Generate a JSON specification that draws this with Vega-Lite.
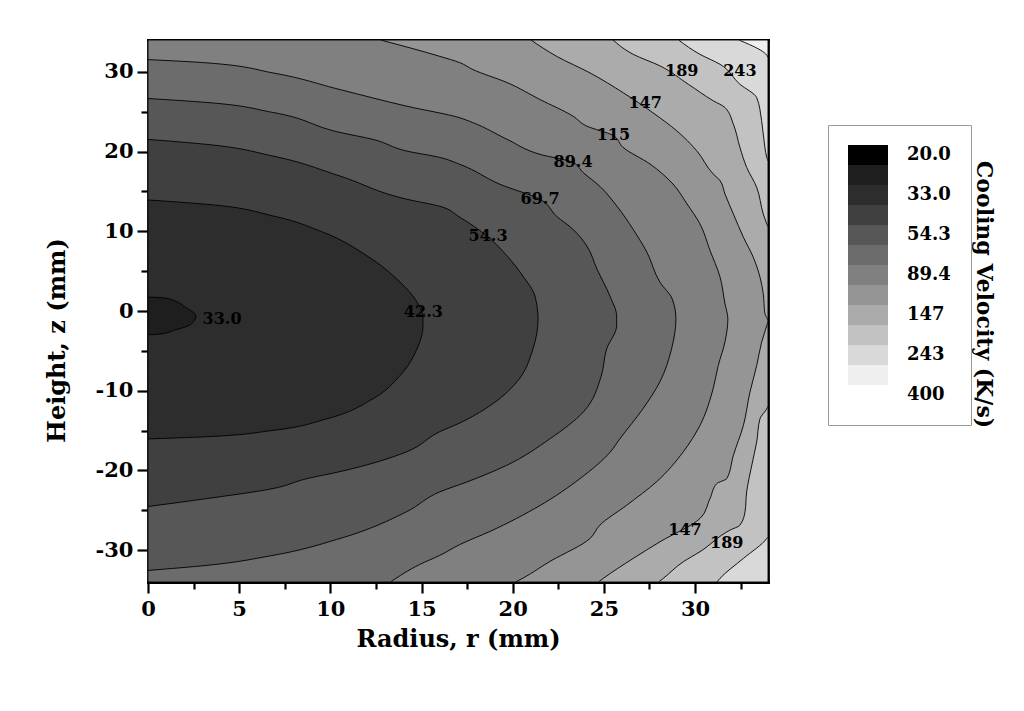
{
  "$schema": "https://vega.github.io/schema/vega-lite/v6.json",
  "width": 620,
  "height": 542,
  "autosize": "none",
  "padding": {"left": 148, "top": 40, "right": 256, "bottom": 129},
  "background": "white",
  "config": {
    "view": {"stroke": null},
    "font": "DejaVu Serif",
    "axis": {
      "labelFont": "DejaVu Serif", "labelFontWeight": "bold", "labelFontSize": 21, "labelColor": "black",
      "titleFont": "DejaVu Serif", "titleFontWeight": "bold", "titleFontSize": 24, "titleColor": "black",
      "domainColor": "black", "domainWidth": 2.8, "domainCap": "square",
      "tickColor": "black", "tickWidth": 2.2, "grid": false, "zindex": 1
    }
  },
  "datasets": {
    "regions": [
      {"band": "312", "z": 34, "r": 34}, {"band": "312", "z": -34, "r": 34},
      {"band": "243", "z": 34, "r": 32.4}, {"band": "243", "z": 31.7, "r": 34}, {"band": "243", "z": -34, "r": 34},
      {"band": "189", "z": 34, "r": 29.1}, {"band": "189", "z": 32.2, "r": 30.27}, {"band": "189", "z": 30.95, "r": 31.37}, {"band": "189", "z": 28.45, "r": 32.46}, {"band": "189", "z": 26.78, "r": 33.38}, {"band": "189", "z": 23.87, "r": 33.65}, {"band": "189", "z": 20.53, "r": 33.83}, {"band": "189", "z": 19.27, "r": 33.93}, {"band": "189", "z": 18.77, "r": 34}, {"band": "189", "z": -28.29, "r": 34}, {"band": "189", "z": -28.54, "r": 33.93}, {"band": "189", "z": -31.04, "r": 32.65}, {"band": "189", "z": -33.54, "r": 31.37}, {"band": "189", "z": -34, "r": 31.2},
      {"band": "147", "z": 34, "r": 25.5}, {"band": "147", "z": 32.2, "r": 26.61}, {"band": "147", "z": 30.75, "r": 28.08}, {"band": "147", "z": 28.45, "r": 29.63}, {"band": "147", "z": 26.37, "r": 31.0}, {"band": "147", "z": 25.53, "r": 31.64}, {"band": "147", "z": 23.44, "r": 32.1}, {"band": "147", "z": 20.53, "r": 32.46}, {"band": "147", "z": 18.02, "r": 32.83}, {"band": "147", "z": 15.52, "r": 33.38}, {"band": "147", "z": 12.18, "r": 33.74}, {"band": "147", "z": 10.93, "r": 33.93}, {"band": "147", "z": 10.5, "r": 34}, {"band": "147", "z": -11.89, "r": 34}, {"band": "147", "z": -12.27, "r": 33.93}, {"band": "147", "z": -13.52, "r": 33.56}, {"band": "147", "z": -16.43, "r": 33.38}, {"band": "147", "z": -19.36, "r": 33.11}, {"band": "147", "z": -22.69, "r": 32.83}, {"band": "147", "z": -25.19, "r": 32.74}, {"band": "147", "z": -26.87, "r": 32.46}, {"band": "147", "z": -27.5, "r": 31.91}, {"band": "147", "z": -30.2, "r": 30.27}, {"band": "147", "z": -31.45, "r": 29.36}, {"band": "147", "z": -33.54, "r": 28.26}, {"band": "147", "z": -34, "r": 28.0},
      {"band": "115", "z": 34, "r": 21.0}, {"band": "115", "z": 31.95, "r": 22.41}, {"band": "115", "z": 29.87, "r": 24.24}, {"band": "115", "z": 27.37, "r": 26.07}, {"band": "115", "z": 24.69, "r": 27.8}, {"band": "115", "z": 22.62, "r": 28.99}, {"band": "115", "z": 20.11, "r": 30.09}, {"band": "115", "z": 17.18, "r": 31.0}, {"band": "115", "z": 16.36, "r": 31.37}, {"band": "115", "z": 14.68, "r": 31.64}, {"band": "115", "z": 12.18, "r": 32.1}, {"band": "115", "z": 9.26, "r": 32.65}, {"band": "115", "z": 6.76, "r": 33.19}, {"band": "115", "z": 4.26, "r": 33.56}, {"band": "115", "z": 2.17, "r": 33.74}, {"band": "115", "z": -0.34, "r": 33.83}, {"band": "115", "z": -1.25, "r": 34.0}, {"band": "115", "z": -1.84, "r": 33.93}, {"band": "115", "z": -3.92, "r": 33.65}, {"band": "115", "z": -6.85, "r": 33.38}, {"band": "115", "z": -10.18, "r": 33.01}, {"band": "115", "z": -14.36, "r": 32.65}, {"band": "115", "z": -18.11, "r": 32.1}, {"band": "115", "z": -21.03, "r": 31.74}, {"band": "115", "z": -21.65, "r": 31.19}, {"band": "115", "z": -23.53, "r": 30.82}, {"band": "115", "z": -26.03, "r": 30.27}, {"band": "115", "z": -28.95, "r": 28.08}, {"band": "115", "z": -31.04, "r": 26.61}, {"band": "115", "z": -33.54, "r": 24.97}, {"band": "115", "z": -34, "r": 24.7},
      {"band": "89.4", "z": 34, "r": 12.75}, {"band": "89.4", "z": 31.95, "r": 16.0}, {"band": "89.4", "z": 31.16, "r": 17.1}, {"band": "89.4", "z": 30.29, "r": 17.82}, {"band": "89.4", "z": 28.66, "r": 19.69}, {"band": "89.4", "z": 26.53, "r": 21.5}, {"band": "89.4", "z": 24.44, "r": 23.31}, {"band": "89.4", "z": 23.19, "r": 24.07}, {"band": "89.4", "z": 22.03, "r": 25.5}, {"band": "89.4", "z": 20.53, "r": 26.05}, {"band": "89.4", "z": 18.44, "r": 27.53}, {"band": "89.4", "z": 15.93, "r": 28.79}, {"band": "89.4", "z": 13.43, "r": 29.56}, {"band": "89.4", "z": 10.93, "r": 30.27}, {"band": "89.4", "z": 7.6, "r": 30.82}, {"band": "89.4", "z": 4.26, "r": 31.37}, {"band": "89.4", "z": 0.91, "r": 31.64}, {"band": "89.4", "z": -1.0, "r": 31.8}, {"band": "89.4", "z": -3.88, "r": 31.64}, {"band": "89.4", "z": -6.85, "r": 31.27}, {"band": "89.4", "z": -9.76, "r": 30.99}, {"band": "89.4", "z": -14.36, "r": 30.27}, {"band": "89.4", "z": -17.65, "r": 29.36}, {"band": "89.4", "z": -21.4, "r": 27.9}, {"band": "89.4", "z": -24.37, "r": 26.25}, {"band": "89.4", "z": -26.87, "r": 24.78}, {"band": "89.4", "z": -28.54, "r": 24.24}, {"band": "89.4", "z": -31.41, "r": 22.05}, {"band": "89.4", "z": -33.9, "r": 20.24}, {"band": "89.4", "z": -34, "r": 20.15},
      {"band": "69.7", "z": 31.54, "r": 0}, {"band": "69.7", "z": 31.13, "r": 3.24}, {"band": "69.7", "z": 29.87, "r": 6.85}, {"band": "69.7", "z": 27.78, "r": 10.53}, {"band": "69.7", "z": 25.69, "r": 14.2}, {"band": "69.7", "z": 24.24, "r": 17.1}, {"band": "69.7", "z": 23.65, "r": 17.8}, {"band": "69.7", "z": 21.53, "r": 19.7}, {"band": "69.7", "z": 19.65, "r": 21.5}, {"band": "69.7", "z": 18.65, "r": 23.3}, {"band": "69.7", "z": 17.4, "r": 23.85}, {"band": "69.7", "z": 15.64, "r": 24.78}, {"band": "69.7", "z": 13.14, "r": 25.72}, {"band": "69.7", "z": 10.26, "r": 26.6}, {"band": "69.7", "z": 7.38, "r": 27.36}, {"band": "69.7", "z": 3.63, "r": 28.07}, {"band": "69.7", "z": 1.5, "r": 28.75}, {"band": "69.7", "z": -1.0, "r": 28.95}, {"band": "69.7", "z": -4.76, "r": 28.71}, {"band": "69.7", "z": -8.89, "r": 28.07}, {"band": "69.7", "z": -12.27, "r": 27.14}, {"band": "69.7", "z": -16.02, "r": 25.88}, {"band": "69.7", "z": -17.69, "r": 25.35}, {"band": "69.7", "z": -21.03, "r": 23.69}, {"band": "69.7", "z": -24.4, "r": 21.5}, {"band": "69.7", "z": -27.66, "r": 18.75}, {"band": "69.7", "z": -29.3, "r": 17.1}, {"band": "69.7", "z": -30.66, "r": 16.0}, {"band": "69.7", "z": -31.8, "r": 14.9}, {"band": "69.7", "z": -34, "r": 13.3},
      {"band": "54.3", "z": 26.66, "r": 0}, {"band": "54.3", "z": 26.16, "r": 3.24}, {"band": "54.3", "z": 24.91, "r": 6.85}, {"band": "54.3", "z": 22.4, "r": 10.53}, {"band": "54.3", "z": 21.53, "r": 12.34}, {"band": "54.3", "z": 20.06, "r": 14.2}, {"band": "54.3", "z": 19.27, "r": 16.0}, {"band": "54.3", "z": 18.4, "r": 17.1}, {"band": "54.3", "z": 15.9, "r": 19.3}, {"band": "54.3", "z": 14.0, "r": 21.5}, {"band": "54.3", "z": 11.9, "r": 22.4}, {"band": "54.3", "z": 10.26, "r": 23.3}, {"band": "54.3", "z": 8.14, "r": 24.07}, {"band": "54.3", "z": 5.26, "r": 24.62}, {"band": "54.3", "z": 1.88, "r": 25.33}, {"band": "54.3", "z": -0.63, "r": 25.7}, {"band": "54.3", "z": -1.84, "r": 25.7}, {"band": "54.3", "z": -4.76, "r": 25.15}, {"band": "54.3", "z": -8.2, "r": 24.85}, {"band": "54.3", "z": -12.68, "r": 23.87}, {"band": "54.3", "z": -16.02, "r": 22.05}, {"band": "54.3", "z": -19.36, "r": 19.67}, {"band": "54.3", "z": -21.44, "r": 17.5}, {"band": "54.3", "z": -22.69, "r": 16.0}, {"band": "54.3", "z": -25.16, "r": 14.2}, {"band": "54.3", "z": -28.54, "r": 10.53}, {"band": "54.3", "z": -30.66, "r": 6.85}, {"band": "54.3", "z": -31.91, "r": 3.24}, {"band": "54.3", "z": -32.55, "r": 0},
      {"band": "42.3", "z": 21.53, "r": 0}, {"band": "42.3", "z": 20.9, "r": 3.24}, {"band": "42.3", "z": 19.44, "r": 6.85}, {"band": "42.3", "z": 16.93, "r": 10.53}, {"band": "42.3", "z": 14.02, "r": 14.2}, {"band": "42.3", "z": 13.14, "r": 16.0}, {"band": "42.3", "z": 11.76, "r": 17.1}, {"band": "42.3", "z": 9.39, "r": 18.6}, {"band": "42.3", "z": 6.88, "r": 19.7}, {"band": "42.3", "z": 4.38, "r": 20.56}, {"band": "42.3", "z": 1.88, "r": 21.22}, {"band": "42.3", "z": -1.0, "r": 21.39}, {"band": "42.3", "z": -4.76, "r": 21.11}, {"band": "42.3", "z": -8.89, "r": 20.23}, {"band": "42.3", "z": -11.89, "r": 18.75}, {"band": "42.3", "z": -14.1, "r": 17.05}, {"band": "42.3", "z": -15.14, "r": 16.0}, {"band": "42.3", "z": -17.65, "r": 14.2}, {"band": "42.3", "z": -20.15, "r": 10.53}, {"band": "42.3", "z": -21.03, "r": 8.72}, {"band": "42.3", "z": -22.28, "r": 6.85}, {"band": "42.3", "z": -23.53, "r": 3.24}, {"band": "42.3", "z": -24.53, "r": 0},
      {"band": "33.0", "z": 13.93, "r": 0}, {"band": "33.0", "z": 13.39, "r": 3.22}, {"band": "33.0", "z": 11.93, "r": 6.85}, {"band": "33.0", "z": 9.89, "r": 9.6}, {"band": "33.0", "z": 6.92, "r": 12.01}, {"band": "33.0", "z": 3.63, "r": 13.82}, {"band": "33.0", "z": 1.13, "r": 14.75}, {"band": "33.0", "z": -1.0, "r": 15.08}, {"band": "33.0", "z": -1.84, "r": 15.08}, {"band": "33.0", "z": -4.76, "r": 14.75}, {"band": "33.0", "z": -8.1, "r": 13.82}, {"band": "33.0", "z": -11.01, "r": 12.34}, {"band": "33.0", "z": -13.52, "r": 9.82}, {"band": "33.0", "z": -14.98, "r": 6.85}, {"band": "33.0", "z": -15.77, "r": 3.24}, {"band": "33.0", "z": -16.05, "r": 0},
      {"band": "25.7", "z": 1.75, "r": 0}, {"band": "25.7", "z": 1.63, "r": 0.93}, {"band": "25.7", "z": 1.25, "r": 1.48}, {"band": "25.7", "z": 0.5, "r": 2.03}, {"band": "25.7", "z": -0.63, "r": 2.63}, {"band": "25.7", "z": -1.75, "r": 2.3}, {"band": "25.7", "z": -2.38, "r": 1.48}, {"band": "25.7", "z": -2.88, "r": 0.66}, {"band": "25.7", "z": -3.0, "r": 0}
    ],
    "labels": [
      {"label": "33.0", "r": 4.06, "z": -1.0},
      {"label": "42.3", "r": 15.1, "z": -0.1},
      {"label": "54.3", "r": 18.65, "z": 9.42},
      {"label": "69.7", "r": 21.5, "z": 14.02},
      {"label": "89.4", "r": 23.31, "z": 18.65},
      {"label": "115", "r": 25.52, "z": 22.03},
      {"label": "147", "r": 27.26, "z": 26.12},
      {"label": "189", "r": 29.27, "z": 30.08},
      {"label": "243", "r": 32.46, "z": 30.08},
      {"label": "147", "r": 29.45, "z": -27.5},
      {"label": "189", "r": 31.74, "z": -29.16}
    ]
  },
  "layer": [
    {
      "data": {"name": "regions"},
      "mark": {"type": "area", "orient": "horizontal", "interpolate": "monotone", "stroke": "black", "strokeWidth": 0.9, "opacity": 1, "fillOpacity": 1, "clip": true},
      "encoding": {
        "y": {
          "field": "z", "type": "quantitative",
          "scale": {"domain": [-34, 34], "nice": false, "zero": false},
          "axis": {
            "orient": "left",
            "values": [-30, -25, -20, -15, -10, -5, 0, 5, 10, 15, 20, 25, 30],
            "labelExpr": "datum.value % 10 === 0 ? ((datum.value < 0 ? '-' : '') + abs(datum.value)) : ''",
            "labelOverlap": false,
            "tickSize": {"condition": {"test": "datum.value % 10 === 0", "value": 11}, "value": 7},
            "labelPadding": 4,
            "title": "Height, z (mm)",
            "titlePadding": 26,
            "titleY": 300
          }
        },
        "x": {
          "field": "r", "type": "quantitative", "stack": null,
          "scale": {"domain": [0, 34], "nice": false, "zero": false},
          "axis": {
            "orient": "bottom",
            "values": [0, 2.5, 5, 7.5, 10, 12.5, 15, 17.5, 20, 22.5, 25, 27.5, 30, 32.5],
            "labelExpr": "datum.value % 5 === 0 ? datum.label : ''",
            "labelOverlap": false,
            "labelFlush": false,
            "tickSize": {"condition": {"test": "datum.value % 5 === 0", "value": 11}, "value": 7},
            "labelPadding": 5,
            "title": "Radius, r (mm)",
            "titlePadding": 8
          }
        },
        "x2": {"datum": 0},
        "fill": {
          "field": "band", "type": "nominal",
          "scale": {
            "domain": ["20.0", "25.7", "33.0", "42.3", "54.3", "69.7", "89.4", "115", "147", "189", "243", "312", "400"],
            "range": ["#000000", "#1e1e1e", "#2d2d2d", "#404040", "#575757", "#6c6c6c", "#808080", "#959595", "#ababab", "#c2c2c2", "#d9d9d9", "#efefef", "#ffffff"]
          },
          "legend": {
            "orient": "none", "legendX": 680, "legendY": 85,
            "title": null,
            "symbolType": "M-2,-1H2V1H-2Z",
            "symbolSize": 400,
            "symbolStrokeWidth": 0,
            "symbolOpacity": 1,
            "symbolOffset": 10,
            "rowPadding": 0,
            "labelOffset": 29,
            "labelFont": "DejaVu Serif", "labelFontWeight": "bold", "labelFontSize": 18, "labelColor": "black",
            "labelExpr": "indexof(['20.0','33.0','54.3','89.4','147','243','400'], datum.label) >= 0 ? datum.label : ''",
            "padding": 20,
            "strokeColor": "#999999",
            "fillColor": "white"
          }
        }
      }
    },
    {
      "data": {"name": "labels"},
      "mark": {"type": "text", "font": "DejaVu Serif", "fontWeight": "bold", "fontSize": 16, "fill": "black", "align": "center", "baseline": "middle"},
      "encoding": {
        "x": {
          "field": "r", "type": "quantitative",
          "scale": {"domain": [0, 34], "nice": false, "zero": false},
          "axis": {"orient": "top", "ticks": false, "labels": false, "title": null, "domain": true}
        },
        "y": {
          "field": "z", "type": "quantitative",
          "scale": {"domain": [-34, 34], "nice": false, "zero": false},
          "axis": {"orient": "right", "ticks": false, "labels": false, "domain": true, "title": "Cooling Velocity (K/s)", "titleFontSize": 22, "titlePadding": 203, "titleY": 254, "titleAngle": 90}
        },
        "text": {"field": "label", "type": "nominal"}
      }
    }
  ],
  "resolve": {"axis": {"x": "independent", "y": "independent"}}
}
